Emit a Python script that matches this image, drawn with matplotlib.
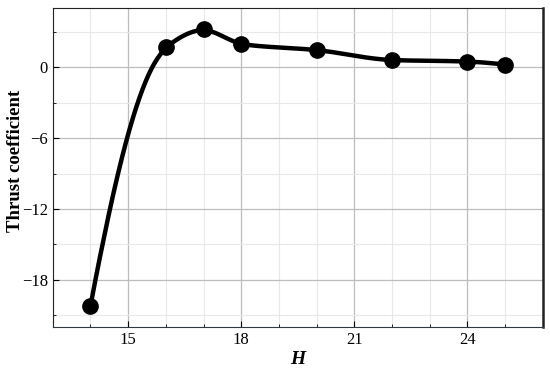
import numpy as np
import matplotlib
matplotlib.use('Agg')
import matplotlib.pyplot as plt
from matplotlib.ticker import MultipleLocator

# dados
H = [14, 16, 17, 18, 20, 22, 24, 25]
thrust = [-20.2, 1.7, 3.2, 1.95, 1.45, 0.6, 0.48, 0.22]
xticks = [15, 18, 21, 24]
yticks = [-18, -12, -6, 0]


def pchip(x, y, xs):
    # interpolação cúbica monótona (PCHIP)
    x = np.asarray(x, float)
    y = np.asarray(y, float)
    h = np.diff(x)
    d = np.diff(y) / h
    n = len(x)
    m = np.zeros(n)
    for k in range(1, n - 1):
        if d[k - 1] * d[k] > 0:
            w1 = 2 * h[k] + h[k - 1]
            w2 = h[k] + 2 * h[k - 1]
            m[k] = (w1 + w2) / (w1 / d[k - 1] + w2 / d[k])
    m[0] = ((2 * h[0] + h[1]) * d[0] - h[0] * d[1]) / (h[0] + h[1])
    m[-1] = ((2 * h[-1] + h[-2]) * d[-1] - h[-1] * d[-2]) / (h[-1] + h[-2])
    if np.sign(m[0]) != np.sign(d[0]):
        m[0] = 0
    if np.sign(m[-1]) != np.sign(d[-1]):
        m[-1] = 0
    i = np.clip(np.searchsorted(x, xs) - 1, 0, n - 2)
    t = (xs - x[i]) / h[i]
    h00 = 2 * t**3 - 3 * t**2 + 1
    h10 = t**3 - 2 * t**2 + t
    h01 = -2 * t**3 + 3 * t**2
    h11 = t**3 - t**2
    return h00 * y[i] + h10 * h[i] * m[i] + h01 * y[i + 1] + h11 * h[i] * m[i + 1]


def suaviza(v, k):
    # média móvel simétrica, janela menor perto das pontas
    out = np.empty_like(v)
    n = len(v)
    for i in range(n):
        r = min(k, i, n - 1 - i)
        out[i] = v[i - r:i + r + 1].mean()
    return out


plt.rcParams['font.family'] = ['Liberation Serif', 'DejaVu Serif']

fig, ax = plt.subplots(figsize=(5.5, 3.68), dpi=100)
xs = np.linspace(H[0], H[-1], 551)   # passo 0.02
ys = suaviza(pchip(H, thrust, xs), 15)
ax.plot(xs, ys, color='black', lw=3.2, zorder=3)  # curva
ax.plot(H, thrust, 'o', color='black', ms=11, zorder=4)  # pontos

ax.set_xlim(13, 26)
ax.set_ylim(-22, 5)
ax.set_xticks(xticks)
ax.set_yticks(yticks)
ax.set_yticklabels([str(v).replace('-', '\u2212') for v in yticks])
ax.xaxis.set_minor_locator(MultipleLocator(1))
ax.yaxis.set_minor_locator(MultipleLocator(3))
ax.tick_params(which='major', direction='in', length=4, labelsize=12)
ax.tick_params(which='minor', direction='in', length=2.5)
ax.grid(which='major', color='#bdbdbd', lw=0.9)
ax.grid(which='minor', color='#e8e8e8', lw=0.8)
ax.set_axisbelow(True)
for s in ax.spines.values():
    s.set_color('#222222')
ax.spines['bottom'].set_color('#2e3a46')
ax.spines['right'].set_linewidth(1.8)

ax.set_xlabel('H', fontsize=14, style='italic', fontweight='bold', labelpad=2)
ax.set_ylabel('Thrust coefficient', fontsize=13.5, fontweight='bold')
ax.yaxis.set_label_coords(-0.058, 0.52)

plt.subplots_adjust(left=0.096, right=0.987, top=0.978, bottom=0.111)
plt.savefig('out.png')
